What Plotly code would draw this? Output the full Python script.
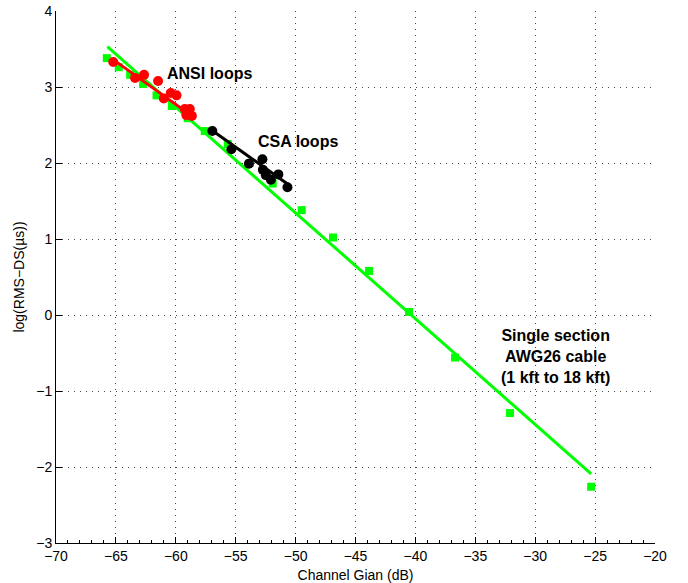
import plotly.graph_objects as go

# AWG26 single section cable (1 kft to 18 kft)
awg_gain = [-65.76, -64.76, -63.81, -62.73, -61.61, -60.33, -59.0, -57.58, -55.66,
            -53.83, -51.91, -49.49, -46.88, -43.87, -40.53, -36.69, -32.10, -25.33]
awg_logds = [3.38, 3.26, 3.16, 3.04, 2.89, 2.75, 2.59, 2.42, 2.25,
             2.00, 1.73, 1.38, 1.02, 0.58, 0.04, -0.56, -1.29, -2.26]
awg_fit_x = [-65.71, -25.33]
awg_fit_y = [3.53, -2.09]

# ANSI loops
ansi_gain = [-65.22, -63.40, -62.65, -61.48, -61.00, -60.42, -59.94, -59.25, -58.83, -59.12, -58.66]
ansi_logds = [3.33, 3.12, 3.16, 3.08, 2.85, 2.92, 2.89, 2.71, 2.71, 2.63, 2.62]
ansi_fit_x = [-65.22, -58.66]
ansi_fit_y = [3.36, 2.62]

# CSA loops
csa_gain = [-56.95, -55.36, -53.90, -52.77, -52.73, -52.48, -52.06, -51.44, -50.68]
csa_logds = [2.42, 2.18, 1.99, 2.05, 1.91, 1.84, 1.78, 1.85, 1.68]
csa_fit_x = [-56.99, -50.64]
csa_fit_y = [2.43, 1.72]

x_ticks = [-70, -65, -60, -55, -50, -45, -40, -35, -30, -25, -20]
y_ticks = [-3, -2, -1, 0, 1, 2, 3, 4]

FONT = "Liberation Sans, Arial, Helvetica, sans-serif"

fig = go.Figure()
fig.add_trace(go.Scatter(x=awg_gain, y=awg_logds, mode="markers",
                         marker=dict(symbol="square", size=8, color="#00ff00"),
                         showlegend=False))
fig.add_trace(go.Scatter(x=awg_fit_x, y=awg_fit_y, mode="lines",
                         line=dict(color="#00ff00", width=3), showlegend=False))
fig.add_trace(go.Scatter(x=ansi_gain, y=ansi_logds, mode="markers",
                         marker=dict(symbol="circle", size=10, color="#ff0000"),
                         showlegend=False))
fig.add_trace(go.Scatter(x=ansi_fit_x, y=ansi_fit_y, mode="lines",
                         line=dict(color="#ff0000", width=3), showlegend=False))
fig.add_trace(go.Scatter(x=csa_gain, y=csa_logds, mode="markers",
                         marker=dict(symbol="circle", size=10, color="#000000"),
                         showlegend=False))
fig.add_trace(go.Scatter(x=csa_fit_x, y=csa_fit_y, mode="lines",
                         line=dict(color="#000000", width=3), showlegend=False))

ann_font = dict(family=FONT, size=16, color="#000000")
fig.add_annotation(x=-57.2, y=3.18, text="<b>ANSI loops</b>", showarrow=False, font=ann_font)
fig.add_annotation(x=-49.8, y=2.28, text="<b>CSA loops</b>", showarrow=False, font=ann_font)
fig.add_annotation(x=-28.3, y=-0.55,
                   text="<b>Single section<br>AWG26 cable<br>(1 kft to 18 kft)</b>",
                   showarrow=False, font=ann_font, align="center")

fig.update_layout(
    width=688, height=583,
    margin=dict(l=56, r=33, t=11, b=40),
    paper_bgcolor="white", plot_bgcolor="white",
    font=dict(family=FONT, size=14, color="#000000"),
    xaxis=dict(range=[-70, -20], tickvals=x_ticks, ticks="inside", ticklen=6,
               tickcolor="#000", showline=True, linecolor="#000", linewidth=1,
               showgrid=True, gridcolor="#444", griddash="1px,5px", gridwidth=1,
               zeroline=False, tickfont=dict(size=14), automargin=False,
               minor=dict(dtick=1, ticks="inside", ticklen=3, tickcolor="#000", showgrid=False),
               title=dict(text="Channel Gian (dB)", font=dict(size=14), standoff=7)),
    yaxis=dict(range=[-3, 4], tickvals=y_ticks, ticks="inside", ticklen=6,
               tickcolor="#000", showline=True, linecolor="#000", linewidth=1,
               showgrid=True, gridcolor="#444", griddash="1px,5px", gridwidth=1,
               zeroline=False, tickfont=dict(size=14), automargin=False,
               title=dict(text="log(RMS\u2212DS(\u00b5s))", font=dict(size=14), standoff=8)),
)

fig.write_html("out.html", config={"displayModeBar": False},
               post_script="document.body.style.margin='0';")
